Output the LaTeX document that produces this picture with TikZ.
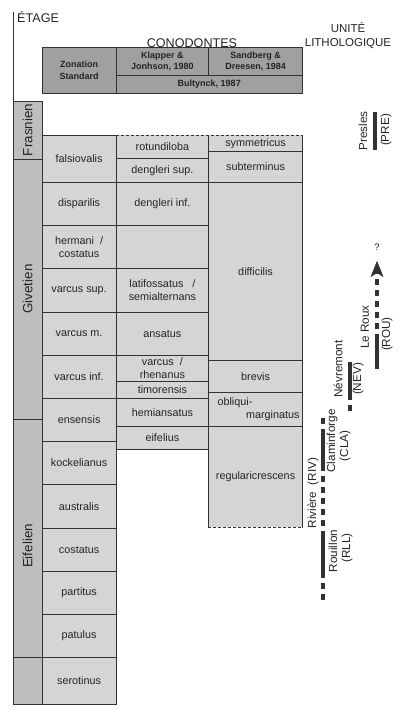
\documentclass[tikz,border=0pt]{standalone}
\usepackage{fontspec}
\setmainfont{Liberation Sans}
\usepackage{tikz}
\usetikzlibrary{arrows.meta}
\definecolor{cellgray}{RGB}{212,213,215}
\definecolor{headgray}{RGB}{160,160,162}
\definecolor{etagegray}{RGB}{190,190,192}
\definecolor{rulegray}{RGB}{50,50,52}
\definecolor{inkgray}{RGB}{36,36,38}
\tikzstyle{zone}      = [rectangle, draw=rulegray, fill=cellgray, line width=0.8pt, inner sep=0pt, anchor=north west, align=center, text=inkgray, font=\fontsize{10.8}{12.8}\selectfont]
\tikzstyle{zonefill}  = [zone, draw=none]
\tikzstyle{head}      = [zone, fill=headgray, font=\bfseries\fontsize{9}{11.5}\selectfont]
\tikzstyle{etagebox}  = [zone, fill=etagegray, minimum width=28.4pt]
\tikzstyle{etagename} = [rotate=90, text=inkgray, font=\fontsize{13.4}{15}\selectfont]
\tikzstyle{title}     = [text=inkgray, font=\fontsize{12.6}{14}\selectfont]
\tikzstyle{unit}      = [rotate=90, text=inkgray, font=\fontsize{11.7}{13.5}\selectfont]
\tikzstyle{rule}      = [draw=rulegray, line width=0.8pt]
\tikzstyle{bar}       = [draw=rulegray, line width=4pt]
\tikzstyle{gapbar}    = [bar, dash pattern=on 6pt off 5pt]

\begin{document}
\begin{tikzpicture}[x=1pt, y=-1pt]
  \useasboundingbox (0,0) rectangle (402,717);

  % Headings
  \node[title, anchor=west, inner sep=0pt] (etage) at (17,17) {ÉTAGE};
  \node[title] (conodontes) at (192,43) {CONODONTES};
  \node[title, align=center, font=\fontsize{11.5}{14}\selectfont] (unite) at (348,36) {UNITÉ\\LITHOLOGIQUE};

  % Header table
  \node[head, minimum width=74pt, minimum height=46pt] (zonation) at (41.7,47) {Zonation\\Standard};
  \node[head, minimum width=92.6pt, minimum height=28pt] (klapper) at (115.7,47) {Klapper \&\\Jonhson, 1980};
  \node[head, minimum width=93.7pt, minimum height=28pt] (sandberg) at (208.3,47) {Sandberg \&\\Dreesen, 1984};
  \node[head, minimum width=186.3pt, minimum height=18pt] (bultynck) at (115.7,75) {Bultynck, 1987};

  % Etages
  \coordinate (axistop) at (13.3,12);
  \node[etagebox, minimum height=58pt] (frasbox) at (13.3,101) {};
  \node[etagebox, minimum height=260pt] (givbox) at (13.3,159) {};
  \node[etagebox, minimum height=238pt] (eifbox) at (13.3,419) {};
  \node[etagebox, minimum height=47pt] (basebox) at (13.3,657) {};
  \draw[rule] (axistop) -- (frasbox.north west);
  \node[etagename] (frasnien) at (27.5,130) {Frasnien};
  \node[etagename] (givetien) at (27.5,289) {Givetien};
  \node[etagename] (eifelien) at (27.5,546) {Eifelien};

  % Open cells (borders drawn below)
  \node[zonefill, minimum width=92.6pt, minimum height=23pt] (rotundiloba) at (115.7,135) {rotundiloba};
  \node[zonefill, minimum width=93.7pt, minimum height=16pt] (symmetricus) at (208.3,135) {symmetricus};
  \node[zonefill, minimum width=93.7pt, minimum height=101pt] (regularicrescens) at (208.3,426) {regularicrescens};

  % Zonation standard
  \foreach \n/\a/\b/\txt in {falsiovalis/135/182/falsiovalis, disparilis/182/225/disparilis,
      hermani/225/268/{hermani\ \ /\\costatus}, varcussup/268/312/{varcus sup.},
      varcusm/312/355/{varcus m.}, varcusinf/355/398/{varcus inf.}, ensensis/398/441/ensensis,
      kockelianus/441/484/kockelianus, australis/484/528/australis, costatus/528/571/costatus,
      partitus/571/614/partitus, patulus/614/657/patulus, serotinus/657/704/serotinus}
    \node[zone, minimum width=74pt, minimum height=\b-\a] (\n) at (41.7,\a) {\txt};

  % Klapper & Johnson
  \foreach \n/\a/\b/\txt in {denglerisup/158/182/{dengleri sup.}, denglerinf/182/225/{dengleri inf.},
      blank/225/268/{}, latifossatus/268/312/{latifossatus\ \ \ /\\semialternans},
      ansatus/312/355/ansatus, rhenanus/355/381/{varcus\ \ /\\rhenanus},
      timorensis/381/398/timorensis, hemiansatus/398/426/hemiansatus, eifelius/426/449/eifelius}
    \node[zone, minimum width=92.6pt, minimum height=\b-\a] (\n) at (115.7,\a) {\txt};

  % Sandberg & Dreesen
  \foreach \n/\a/\b/\txt in {subterminus/151/182/subterminus, difficilis/182/360/difficilis,
      brevis/360/392/brevis,
      obliqui/392/426/{\parbox{88pt}{\hspace*{6pt}obliqui-\\\mbox{}\hfill marginatus}}}
    \node[zone, minimum width=93.7pt, minimum height=\b-\a] (\n) at (208.3,\a) {\txt};

  \draw[rule, dash pattern=on 3pt off 2pt] (rotundiloba.north west) -- (symmetricus.north east);
  \draw[rule] (symmetricus.north west) -- (symmetricus.south west);
  \draw[rule] (symmetricus.north east) -- (symmetricus.south east);
  \draw[rule] (regularicrescens.north west) -- (regularicrescens.south west);
  \draw[rule] (regularicrescens.north east) -- (regularicrescens.south east);
  \draw[rule, dash pattern=on 3pt off 2pt] (regularicrescens.south west) -- (regularicrescens.south east);

  % Lithological units
  \node[unit] (presname) at (363,131) {Presles};
  \node[unit] (prescode) at (386,130) {(PRE)};
  \node[unit] (rouname) at (365,327) {Le Roux};
  \node[unit] (roucode) at (387,334) {(ROU)};
  \node[unit] (nevname) at (338,369) {Névremont};
  \node[unit] (nevcode) at (358,379) {(NEV)};
  \node[unit] (claname) at (332,441) {Claminforge};
  \node[unit] (clacode) at (345,446) {(CLA)};
  \node[unit] (rivname) at (313,493) {Rivière\ \ (RIV)};
  \node[unit] (rllname) at (333,551) {Rouillon};
  \node[unit] (rllcode) at (347,548) {(RLL)};
  \node[text=inkgray, font=\fontsize{9.5}{10}\selectfont] (query) at (377,247) {?};

  \coordinate (pretop) at (375,112);
  \coordinate (prebot) at (375,150);
  \coordinate (routip) at (377,261);
  \coordinate (roumid) at (377,340);
  \coordinate (roubot) at (377,369);
  \coordinate (nevtop) at (350,362);
  \coordinate (nevmid) at (350,394);
  \coordinate (nevbot) at (350,413);
  \coordinate (clatop) at (323,418);
  \coordinate (clasolid) at (323,430);
  \coordinate (clabot) at (323,465);
  \coordinate (rlltop) at (323,535);
  \coordinate (rllbot) at (323,572);
  \coordinate (rivbot) at (323,600);

  \draw[bar] (pretop) -- (prebot);
  \draw[gapbar, -{Stealth[length=16pt 0, width=13pt 0, inset=4pt 0, line width=0.5pt]}] (roumid) -- (routip);
  \draw[bar] (roumid) -- (roubot);
  \draw[bar] (nevtop) -- (nevmid);
  \draw[gapbar] (nevmid) -- (nevbot);
  \draw[gapbar] (clatop) -- (clasolid);
  \draw[bar] (clasolid) -- (clabot);
  \draw[gapbar] (clabot) -- (rlltop);
  \draw[bar] (rlltop) -- (rllbot);
  \draw[gapbar] (rllbot) -- (rivbot);
\end{tikzpicture}
\end{document}
